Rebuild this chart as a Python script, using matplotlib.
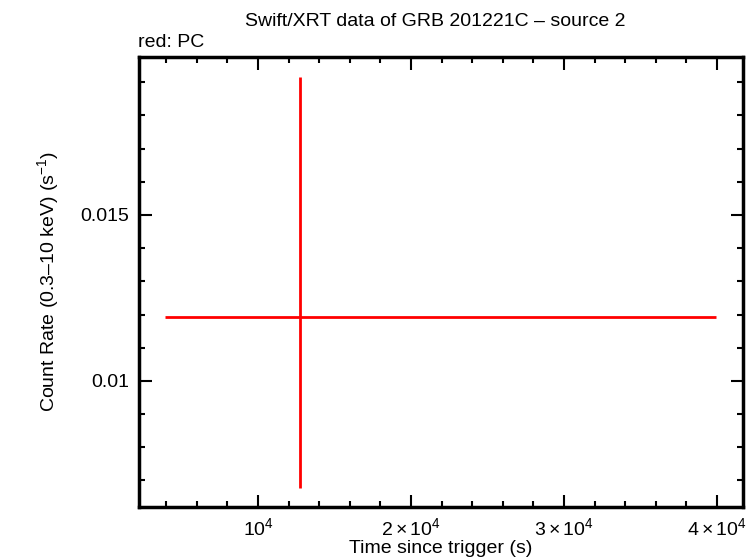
import matplotlib
matplotlib.use("Agg")
import matplotlib.pyplot as plt
from matplotlib.ticker import MultipleLocator, FixedLocator, FixedFormatter

# data (one PC-mode bin)
t_mid = [12750]
t_lo = [3920]      # start of bin
t_hi = [39940]     # end of bin
rate = [0.01193]
rate_err_lo = [0.00515]
rate_err_hi = [0.00723]

xtick_vals = [10000, 20000, 30000, 40000]
xtick_labels = [r'$10^4$', r'$2\times10^4$', r'$3\times10^4$', r'$4\times10^4$']
ytick_vals = [0.01, 0.015]
ytick_labels = ['0.01', '0.015']

plt.rcParams['font.family'] = ['Liberation Sans', 'DejaVu Sans']
plt.rcParams['mathtext.fontset'] = 'custom'
plt.rcParams['mathtext.rm'] = 'Liberation Sans'
plt.rcParams['mathtext.it'] = 'Liberation Sans'

fig = plt.figure(figsize=(7.56, 5.58), dpi=100)
ax = fig.add_axes([0.1839, 0.0914, 0.9828 - 0.1839, 0.8978 - 0.0914])

xerr = [[m - lo for m, lo in zip(t_mid, t_lo)], [hi - m for m, hi in zip(t_mid, t_hi)]]
ax.errorbar(t_mid, rate, xerr=xerr, yerr=[rate_err_lo, rate_err_hi],
            fmt='none', ecolor='#ff0000', elinewidth=2, capsize=0)

ax.set_xlim(2222, 41700)
ax.set_ylim(0.0062, 0.01976)

ax.xaxis.set_major_locator(FixedLocator(xtick_vals))
ax.xaxis.set_major_formatter(FixedFormatter(xtick_labels))
ax.xaxis.set_minor_locator(MultipleLocator(2000))
ax.yaxis.set_major_locator(FixedLocator(ytick_vals))
ax.yaxis.set_major_formatter(FixedFormatter(ytick_labels))
ax.yaxis.set_minor_locator(MultipleLocator(0.001))

ax.tick_params(which='both', direction='in', top=True, right=True, width=1.5, labelsize=14, pad=7)
ax.tick_params(which='major', length=9)
ax.tick_params(which='minor', length=4.5)
for s in ax.spines.values():
    s.set_linewidth(2.5)

ax.set_xlabel('Time since trigger (s)', fontsize=14, labelpad=1)
ax.set_ylabel('Count Rate (0.3\u201310 keV) (s$^{-1}$)', fontsize=14, labelpad=14)
fig.text(0.576, 0.962, 'Swift/XRT data of GRB 201221C \u2013 source 2', ha='center', va='center', fontsize=14)
fig.text(0.183, 0.924, 'red: PC', ha='left', va='center', fontsize=14)

fig.savefig('out.png', dpi=100)
